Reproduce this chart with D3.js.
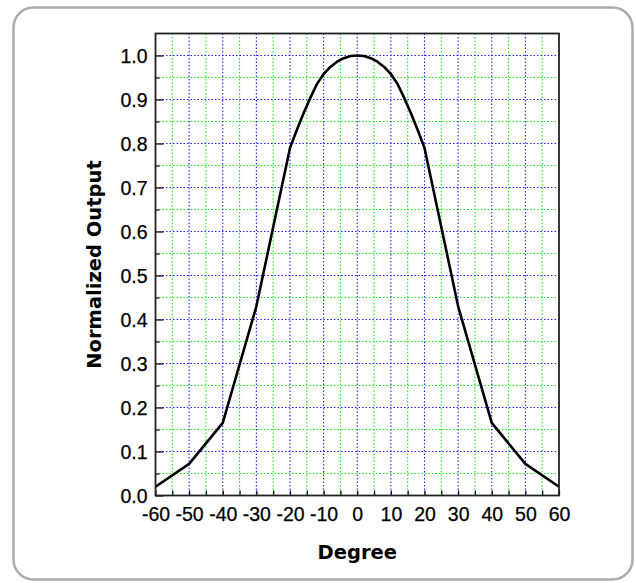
<!DOCTYPE html>
<html>
<head>
<meta charset="utf-8">
<script src="https://cdn.jsdelivr.net/npm/d3@7"></script>
<style>
  body { margin: 0; background: #fff; }
  svg { display: block; }
</style>
</head>
<body>
<div id="chart"></div>
<script>
// readings from the reference picture
var degrees = [-60, -50, -40, -30, -20, -18, -16, -14, -12, -10, -8, -6, -4, -2, 0,
               2, 4, 6, 8, 10, 12, 14, 16, 18, 20, 30, 40, 50, 60];
var output = [0.02, 0.072, 0.165, 0.43, 0.79, 0.83, 0.868, 0.903, 0.935, 0.958, 0.974, 0.986, 0.994, 0.999, 1.0,
              0.999, 0.994, 0.986, 0.974, 0.958, 0.935, 0.903, 0.868, 0.83, 0.79, 0.43, 0.165, 0.072, 0.02];
var xTicks = [-60, -50, -40, -30, -20, -10, 0, 10, 20, 30, 40, 50, 60];
var xMinor = [-55, -45, -35, -25, -15, -5, 5, 15, 25, 35, 45, 55];
var yTicks = [0.0, 0.1, 0.2, 0.3, 0.4, 0.5, 0.6, 0.7, 0.8, 0.9, 1.0];
var yMinor = [0.05, 0.15, 0.25, 0.35, 0.45, 0.55, 0.65, 0.75, 0.85, 0.95, 1.05];

var svgWidth = 636, svgHeight = 583;
var margin = { top: 33.5, right: 77, bottom: 87.5, left: 155.5 };
var width = svgWidth - margin.left - margin.right;
var height = svgHeight - margin.top - margin.bottom;

var svg = d3.select("#chart").append("svg")
    .attr("width", svgWidth)
    .attr("height", svgHeight);

// rounded frame
svg.append("rect")
    .attr("x", 13.5).attr("y", 7.5)
    .attr("width", 619).attr("height", 572)
    .attr("rx", 20).attr("ry", 20)
    .attr("fill", "#fff")
    .attr("stroke", "#ababab")
    .attr("stroke-width", 2.5);

var g = svg.append("g")
    .attr("transform", "translate(" + margin.left + "," + margin.top + ")");

var x = d3.scaleLinear().domain([-60, 60]).range([0, width]);
var y = d3.scaleLinear().domain([0, 1.05]).range([height, 0]);

function vGrid(vals, color) {
    g.append("g").selectAll("line").data(vals).enter().append("line")
        .attr("x1", function(d) { return x(d); }).attr("x2", function(d) { return x(d); })
        .attr("y1", 0).attr("y2", height)
        .attr("stroke", color).attr("stroke-width", 1.1).attr("stroke-dasharray", "1.5,2");
}
function hGrid(vals, color) {
    g.append("g").selectAll("line").data(vals).enter().append("line")
        .attr("y1", function(d) { return y(d); }).attr("y2", function(d) { return y(d); })
        .attr("x1", 0).attr("x2", width)
        .attr("stroke", color).attr("stroke-width", 1.1).attr("stroke-dasharray", "1.5,2");
}
// minor grid green, major grid blue
vGrid(xMinor, "#11ee11");
hGrid(yMinor, "#11ee11");
vGrid(xTicks.slice(1, -1), "#2222ff");
hGrid(yTicks.slice(1), "#2222ff");

// axes with inward ticks
var xAxis = g.append("g")
    .attr("transform", "translate(0," + height + ")")
    .call(d3.axisBottom(x).tickValues(xTicks.concat(xMinor)).tickSize(-5).tickPadding(12)
        .tickFormat(function(d) { return xTicks.indexOf(d) >= 0 ? d : ""; }));
var yAxis = g.append("g")
    .call(d3.axisLeft(y).tickValues(yTicks).tickSize(-8).tickPadding(8).tickFormat(d3.format(".1f")));
g.append("g")
    .call(d3.axisLeft(y).tickValues(yMinor.slice(0, -1)).tickSize(-4).tickFormat(""));

[xAxis, yAxis].forEach(function(a) {
    a.attr("font-family", "Liberation Sans, Arial, sans-serif").attr("font-size", 19.5);
});

g.selectAll(".domain").remove();
g.selectAll(".tick line").attr("stroke", "#000").attr("stroke-width", 1.2);
g.selectAll(".tick text")
    .attr("fill", "#000")
    .attr("stroke", "#000")
    .attr("stroke-width", 0.25);
yAxis.selectAll(".tick text").attr("dy", "0.36em");

// curve
var line = d3.line()
    .x(function(d, i) { return x(degrees[i]); })
    .y(function(d) { return y(d); });
g.append("path")
    .datum(output)
    .attr("fill", "none")
    .attr("stroke", "#000")
    .attr("stroke-width", 2.6)
    .attr("stroke-linejoin", "round")
    .attr("d", line);

// plot box
g.append("rect")
    .attr("width", width).attr("height", height)
    .attr("fill", "none")
    .attr("stroke", "#222")
    .attr("stroke-width", 1.8);

// axis titles
svg.append("text")
    .attr("x", margin.left + width / 2)
    .attr("y", 559)
    .attr("text-anchor", "middle")
    .style("font-family", "'DejaVu Sans', Verdana, sans-serif")
    .style("font-weight", "bold")
    .style("font-size", "19.5px")
    .text("Degree");

svg.append("text")
    .attr("transform", "translate(101," + (margin.top + height / 2) + ") rotate(-90)")
    .attr("text-anchor", "middle")
    .style("font-family", "'DejaVu Sans', Verdana, sans-serif")
    .style("font-weight", "bold")
    .style("font-size", "19.5px")
    .text("Normalized Output");
</script>
</body>
</html>
